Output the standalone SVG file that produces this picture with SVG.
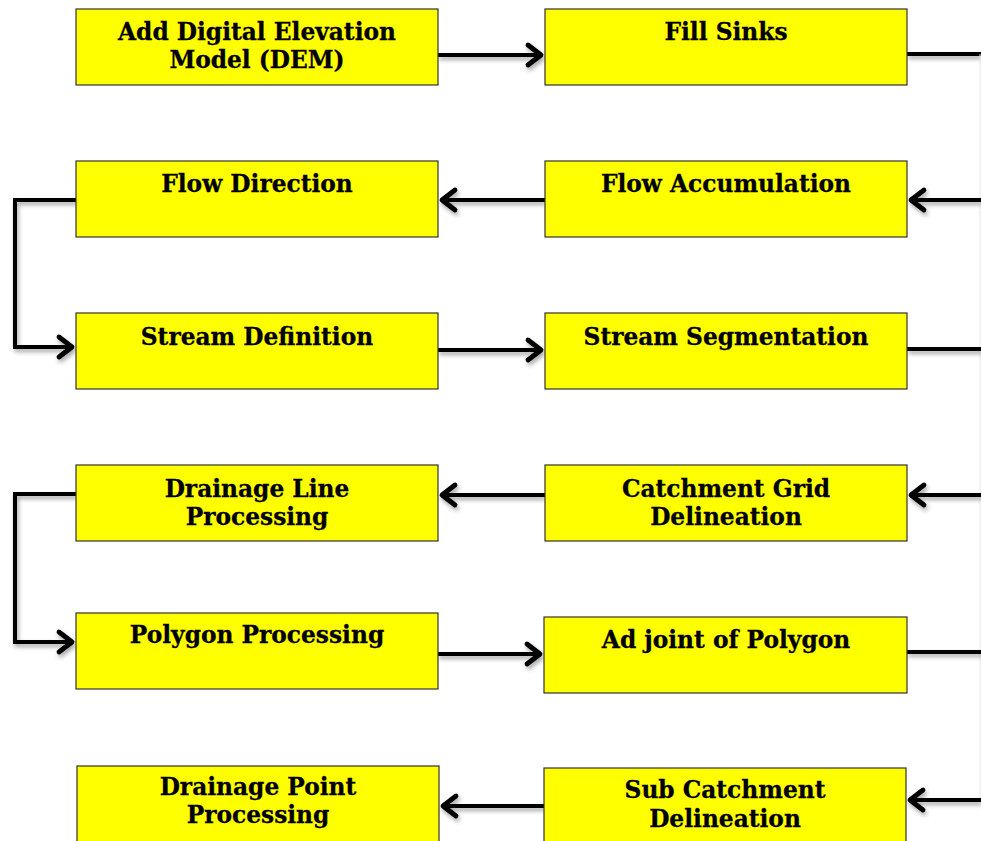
<svg xmlns="http://www.w3.org/2000/svg" width="981" height="841" viewBox="0 0 981 841">
  <style>
    .box { fill: #ffff00; stroke: #333; stroke-width: 1.2; }
    .lbl { font-family: "DejaVu Serif", "Liberation Serif", serif; font-weight: bold; font-size: 23.3px; fill: #000; stroke: #000; stroke-width: 0.3; text-anchor: middle; }
    .wire { fill: none; stroke: #000; stroke-width: 4; filter: url(#shade); }
  </style>
  <defs>
    <filter id="shade" filterUnits="userSpaceOnUse" x="0" y="0" width="981" height="841">
      <feDropShadow dx="1.5" dy="3" stdDeviation="2" flood-color="#000" flood-opacity="0.35"/>
    </filter>
    <marker id="head" markerUnits="userSpaceOnUse" viewBox="-18 -14 22 28" markerWidth="22" markerHeight="28" refX="0" refY="0" orient="auto">
      <polyline points="-13,-10 0,0 -13,10" fill="none" stroke="#000" stroke-width="4.8" stroke-linecap="round" stroke-linejoin="round"/>
    </marker>
  </defs>

  <!-- connectors -->
  <g id="connectors">
    <line class="wire" x1="438" y1="55" x2="541" y2="55" marker-end="url(#head)"/>
    <line class="wire" x1="907" y1="54" x2="981" y2="54"/>
    <line x1="980" y1="54" x2="980" y2="800" stroke="#e6e6e6" stroke-width="1"/>
    <line class="wire" x1="981" y1="200" x2="911" y2="200" marker-end="url(#head)"/>
    <line class="wire" x1="545" y1="200" x2="442" y2="200" marker-end="url(#head)"/>
    <polyline class="wire" points="76,200 15,200 15,347 72,347" marker-end="url(#head)"/>
    <line class="wire" x1="438" y1="350" x2="541" y2="350" marker-end="url(#head)"/>
    <line class="wire" x1="907" y1="349" x2="981" y2="349"/>
    <line class="wire" x1="981" y1="495" x2="911" y2="495" marker-end="url(#head)"/>
    <line class="wire" x1="545" y1="495" x2="442" y2="495" marker-end="url(#head)"/>
    <polyline class="wire" points="76,494 15,494 15,642 72,642" marker-end="url(#head)"/>
    <line class="wire" x1="438" y1="654" x2="540" y2="654" marker-end="url(#head)"/>
    <line class="wire" x1="907" y1="652" x2="981" y2="652"/>
    <line class="wire" x1="981" y1="800" x2="910" y2="800" marker-end="url(#head)"/>
    <line class="wire" x1="544" y1="806" x2="443" y2="806" marker-end="url(#head)"/>
  </g>

  <g id="add-dem">
    <rect class="box" x="76" y="9" width="362" height="76"/>
    <text class="lbl" x="257" y="40">Add Digital Elevation</text>
    <text class="lbl" x="257" y="68">Model (DEM)</text>
  </g>
  <g id="fill-sinks">
    <rect class="box" x="545" y="9" width="362" height="76"/>
    <text class="lbl" x="726" y="40">Fill Sinks</text>
  </g>
  <g id="flow-direction">
    <rect class="box" x="76" y="161" width="362" height="76"/>
    <text class="lbl" x="257" y="192">Flow Direction</text>
  </g>
  <g id="flow-accumulation">
    <rect class="box" x="545" y="161" width="362" height="76"/>
    <text class="lbl" x="726" y="192">Flow Accumulation</text>
  </g>
  <g id="stream-definition">
    <rect class="box" x="76" y="313" width="362" height="76"/>
    <text class="lbl" x="257" y="345">Stream Definition</text>
  </g>
  <g id="stream-segmentation">
    <rect class="box" x="545" y="313" width="362" height="76"/>
    <text class="lbl" x="726" y="345">Stream Segmentation</text>
  </g>
  <g id="drainage-line">
    <rect class="box" x="76" y="465" width="362" height="76"/>
    <text class="lbl" x="257" y="497">Drainage Line</text>
    <text class="lbl" x="257" y="525">Processing</text>
  </g>
  <g id="catchment-grid">
    <rect class="box" x="545" y="465" width="362" height="76"/>
    <text class="lbl" x="726" y="497">Catchment Grid</text>
    <text class="lbl" x="726" y="525">Delineation</text>
  </g>
  <g id="polygon-processing">
    <rect class="box" x="76" y="613" width="362" height="76"/>
    <text class="lbl" x="257" y="643">Polygon Processing</text>
  </g>
  <g id="adjoint-polygon">
    <rect class="box" x="544" y="617" width="363" height="76"/>
    <text class="lbl" x="726" y="648">Ad joint of Polygon</text>
  </g>
  <g id="drainage-point">
    <rect class="box" x="77" y="766" width="362" height="80"/>
    <text class="lbl" x="258" y="795">Drainage Point</text>
    <text class="lbl" x="258" y="823">Processing</text>
  </g>
  <g id="sub-catchment">
    <rect class="box" x="544" y="768" width="362" height="80"/>
    <text class="lbl" x="725" y="798">Sub Catchment</text>
    <text class="lbl" x="725" y="827">Delineation</text>
  </g>
</svg>
